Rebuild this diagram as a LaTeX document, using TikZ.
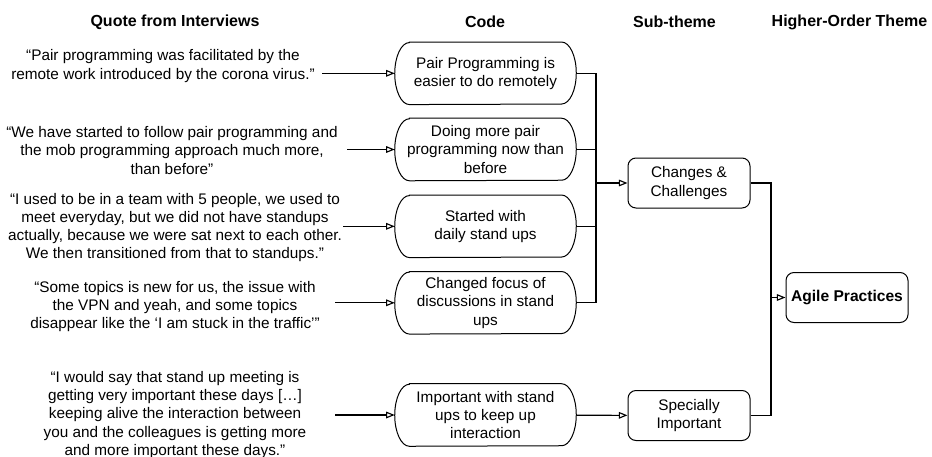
\documentclass[tikz,border=0pt]{standalone}
\usepackage{fontspec}
\setsansfont{Liberation Sans}
\usetikzlibrary{arrows.meta}

\begin{document}
\begin{tikzpicture}[x=0.75pt, y=-0.75pt, font=\sffamily\fontsize{11.5pt}{13.7pt}\selectfont,
	quote/.style={align=center, inner sep=0pt},
	code/.style={align=center, minimum width=135.75pt, minimum height=46.5pt, inner sep=0pt},
	theme/.style={draw, line width=0.75pt, rounded corners=6pt, align=center, minimum width=91.5pt, minimum height=37.5pt, inner sep=0pt},
	head/.style={font=\sffamily\bfseries\fontsize{12pt}{13.8pt}\selectfont},
	arr/.style={-{Triangle[open, length=6.5pt, width=5pt]}, line width=0.85pt},
	link/.style={line width=0.8pt}]
	\useasboundingbox (0,0) rectangle (932,457);
	%headings
	\node[head] (hquote) at (175,22) {Quote from Interviews};
	\node[head] (hcode) at (485,22) {Code};
	\node[head] (hsub) at (674.5,22) {Sub-theme};
	\node[head] (hhigh) at (849.5,22) {Higher-Order Theme};
	%quotes
	\node[quote, minimum width=238.5pt] (q1) at (163,66)
	{“Pair programming was facilitated by the\\remote work introduced by the corona virus.”};
	\node[quote, minimum width=262.5pt] (q2) at (172,150.5)
	{“We have started to follow pair programming and\\the mob programming approach much more,\\than before"};
	\node[quote, minimum width=252pt] (q3) at (175,227.5)
	{“I used to be in a team with 5 people, we used to\\meet everyday, but we did not have standups\\actually, because we were sat next to each other.\\We then transitioned from that to standups.”};
	\node[quote, minimum width=240pt] (q4) at (175,306.5)
	{“Some topics is new for us, the issue with\\the VPN and yeah, and some topics\\disappear like the ‘I am stuck in the traffic’”};
	\node[quote, minimum width=240pt] (q5) at (175,415)
	{“I would say that stand up meeting is\\getting very important these days […]\\keeping alive the interaction between\\you and the colleagues is getting more\\and more important these days.”};
	%codes
	\node[code] (c1) at (485.5,73.3) {Pair Programming is\\easier to do remotely};
	\node[code] (c2) at (485.5,149.5) {Doing more pair\\programming now than\\before};
	\node[code] (c3) at (485.5,226.3) {Started with\\daily stand ups};
	\node[code] (c4) at (485.5,302.8) {Changed focus of\\discussions in stand\\ups};
	\node[code] (c5) at (485.5,415) {Important with stand\\ups to keep up\\interaction};
	\foreach \n in {c1,c2,c3,c4,c5}
	\draw[line width=0.75pt] ([xshift=11pt]\n.north west) -- ([xshift=-11pt]\n.north east)
	arc[start angle=90, end angle=-90, x radius=11pt, y radius=23.25pt]
	-- ([xshift=11pt]\n.south west)
	arc[start angle=270, end angle=90, x radius=11pt, y radius=23.25pt] -- cycle;
	%themes
	\node[theme] (s1) at (689,183) {Changes \&\\Challenges};
	\node[theme] (s2) at (689,415.5) {Specially\\Important};
	\node[theme, font=\sffamily\bfseries\fontsize{11.7pt}{13.8pt}\selectfont] (agile) at (847,297.5) {Agile Practices};
	%connectors
	\foreach \q/\c in {q1/c1,q2/c2,q3/c3,q4/c4,q5/c5}
	\draw[arr] (\q.east |- \c) -- (\c);
	\coordinate (j1) at (596,183);
	\coordinate (j2) at (771,297.5);
	\foreach \c in {c1,c2,c3,c4}
	\draw[link] (\c.east) -| (j1);
	\draw[arr] (j1) -- (s1);
	\draw[arr] (c5) -- (s2);
	\draw[link] (s1.east) -| (j2);
	\draw[link] (s2.east) -| (j2);
	\draw[arr] (j2) -- (agile);
\end{tikzpicture}
\end{document}
